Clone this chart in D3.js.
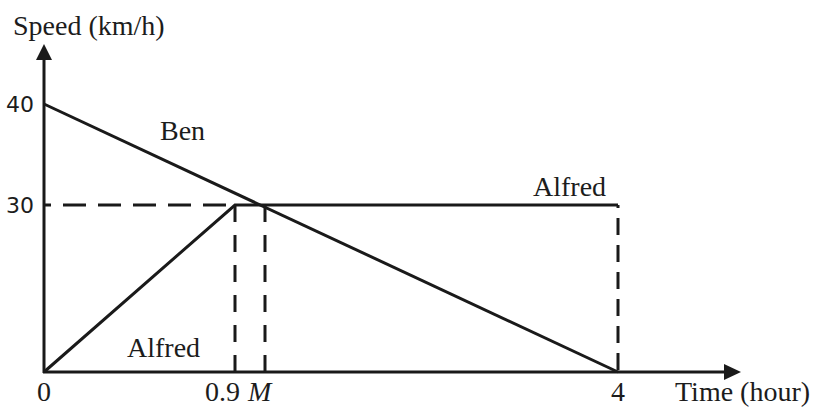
<!DOCTYPE html>
<html>
<head>
<meta charset="utf-8">
<script src="https://cdn.jsdelivr.net/npm/d3@7/dist/d3.min.js"></script>
<style>
  html, body { margin: 0; padding: 0; background: #fff; }
  svg { display: block; }
  .serif { font-family: "Liberation Serif", "Times New Roman", serif; fill: #1c1c1c; }
  .sans { font-family: "DejaVu Sans", Verdana, sans-serif; fill: #1c1c1c; }
</style>
</head>
<body>
<svg id="chart" width="823" height="407"></svg>
<script>
// Ben slows down steadily from 40 km/h to rest at 4 hours
const benTime = [0, 4];
const benSpeed = [40, 0];

// Alfred speeds up to 30 km/h by 0.9 h and then holds that speed
const alfredTime = [0, 0.9, 4];
const alfredSpeed = [0, 30, 30];

// They meet at time M (1 hour) at 30 km/h
const meetTime = 1;
const meetSpeed = 30;

// Axis labels
const yTickValues = [40, 30];
const yTickLabels = ["40", "30"];
const xTickValues = [0, 0.9, 1, 4];
const xTickLabels = ["0", "0.9", "M", "4"];

const svg = d3.select("#chart");
const ink = "#1a1a1a";

// Sketch-style axes: key values are spread out for readability (not to scale)
const x = d3.scaleLinear().domain([0, 0.9, 1, 4]).range([44, 235, 265, 618]);
const y = d3.scaleLinear().domain([0, 30, 40]).range([372, 205, 104]);

const x0 = x(0), y0 = y(0);
const yTop = 44, xRight = 741;
const bottomBaseline = 401;

// Axes with arrowheads
svg.append("line")
  .attr("x1", x0).attr("y1", y0 + 1).attr("x2", x0).attr("y2", yTop + 10)
  .attr("stroke", ink).attr("stroke-width", 3);
svg.append("path")
  .attr("d", `M${x0},${yTop} L${x0 - 8},${yTop + 16} L${x0 + 8},${yTop + 16} Z`)
  .attr("fill", ink);
svg.append("line")
  .attr("x1", x0 - 1).attr("y1", y0).attr("x2", xRight - 10).attr("y2", y0)
  .attr("stroke", ink).attr("stroke-width", 3);
svg.append("path")
  .attr("d", `M${xRight},${y0} L${xRight - 17},${y0 - 8} L${xRight - 17},${y0 + 8} Z`)
  .attr("fill", ink);

// Dashed guide lines
const guides = svg.append("g").attr("stroke", ink).attr("stroke-width", 3).attr("fill", "none");
guides.append("line")
  .attr("x1", x(0)).attr("y1", y(meetSpeed)).attr("x2", x(alfredTime[1])).attr("y2", y(meetSpeed))
  .attr("stroke-dasharray", "23,12").attr("stroke-dashoffset", 16);
guides.append("line")
  .attr("x1", x(alfredTime[1])).attr("y1", y(alfredSpeed[1])).attr("x2", x(alfredTime[1])).attr("y2", y0)
  .attr("stroke-dasharray", "17,13");
guides.append("line")
  .attr("x1", x(meetTime)).attr("y1", y(meetSpeed)).attr("x2", x(meetTime)).attr("y2", y0)
  .attr("stroke-dasharray", "17,13");
guides.append("line")
  .attr("x1", x(alfredTime[2])).attr("y1", y(alfredSpeed[2])).attr("x2", x(alfredTime[2])).attr("y2", y0)
  .attr("stroke-dasharray", "17,10").attr("stroke-dashoffset", 14);

// Speed-time lines
const line = d3.line().x(d => x(d[0])).y(d => y(d[1]));
svg.append("path")
  .datum(benTime.map((t, i) => [t, benSpeed[i]]))
  .attr("d", line).attr("fill", "none").attr("stroke", ink).attr("stroke-width", 3);
svg.append("path")
  .datum(alfredTime.map((t, i) => [t, alfredSpeed[i]]))
  .attr("d", line).attr("fill", "none").attr("stroke", ink).attr("stroke-width", 3)
  .attr("stroke-linejoin", "miter");

// Y tick labels
svg.selectAll(".ytick").data(yTickValues).enter().append("text")
  .attr("class", "sans")
  .attr("x", x0 - 10).attr("y", d => y(d) + 8)
  .attr("text-anchor", "end").attr("font-size", 22)
  .text((d, i) => yTickLabels[i]);

// X tick labels
const xLabel = svg.append("g");
xTickValues.forEach((v, i) => {
  const t = xLabel.append("text").attr("class", "serif").attr("font-size", 28).attr("y", bottomBaseline);
  if (xTickLabels[i] === "M") {
    t.attr("x", x(v) - 17).attr("text-anchor", "start").attr("font-style", "italic");
  } else if (v === 0.9) {
    t.attr("x", x(v) + 5).attr("text-anchor", "end");
  } else {
    t.attr("x", x(v)).attr("text-anchor", "middle");
  }
  t.text(xTickLabels[i]);
});

// Axis titles
svg.append("text").attr("class", "serif").attr("font-size", 28)
  .attr("x", 13).attr("y", 35).text("Speed (km/h)");
svg.append("text").attr("class", "serif").attr("font-size", 28)
  .attr("x", 675).attr("y", bottomBaseline).text("Time (hour)");

// Series labels
svg.append("text").attr("class", "serif").attr("font-size", 28)
  .attr("x", 160).attr("y", 140).text("Ben");
svg.append("text").attr("class", "serif").attr("font-size", 28)
  .attr("x", 127).attr("y", 357).text("Alfred");
svg.append("text").attr("class", "serif").attr("font-size", 28)
  .attr("x", 533).attr("y", 196).text("Alfred");
</script>
</body>
</html>
